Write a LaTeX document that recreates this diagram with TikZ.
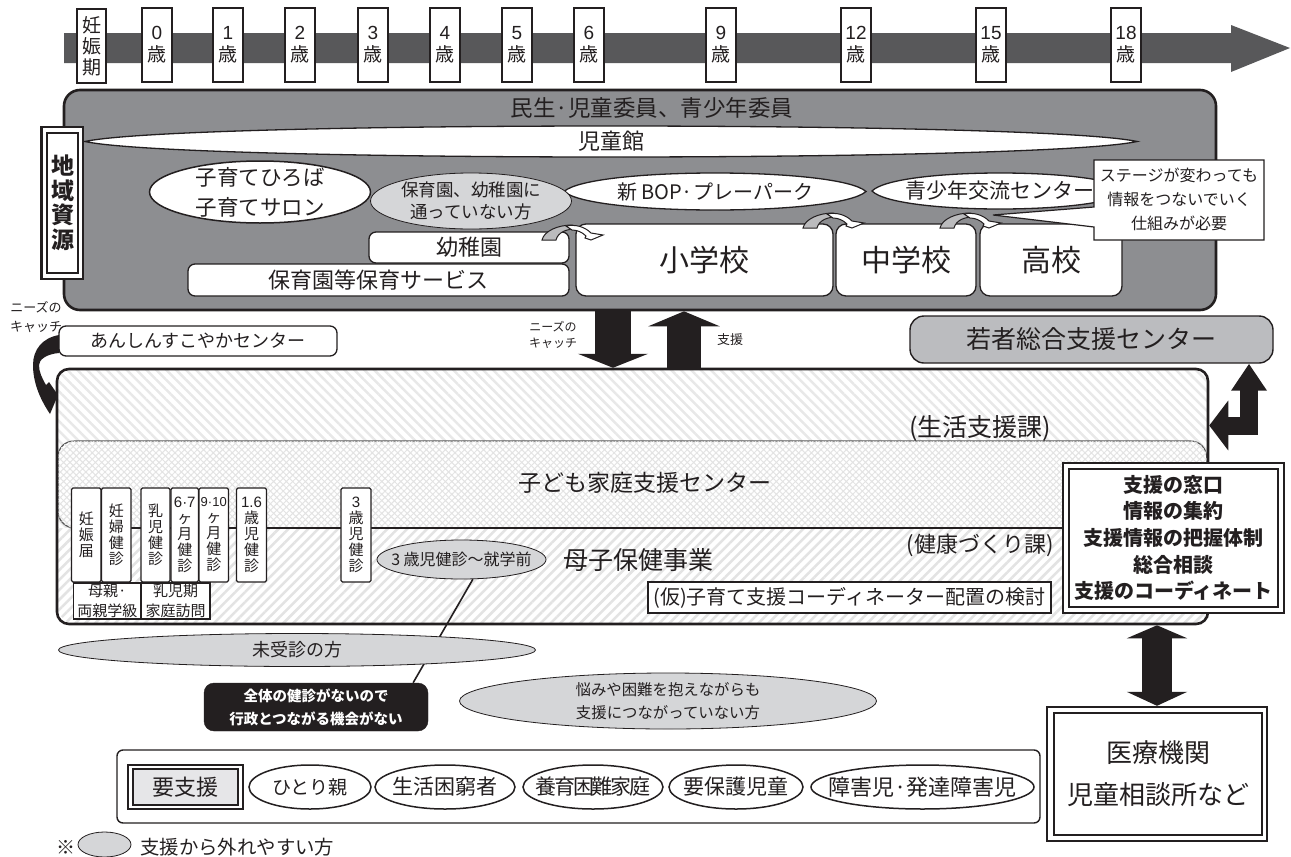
\documentclass[tikz,border=0pt]{standalone}
\usepackage{fontspec}
\setmainfont{Noto Sans CJK JP}
\newfontfamily\latf{Liberation Sans}
\usetikzlibrary{shapes.geometric,arrows.meta,patterns.meta,calc}
\definecolor{panelgray}{HTML}{8D8E91}
\definecolor{bargray}{HTML}{58585A}
\definecolor{softgray}{HTML}{D5D6D8}
\definecolor{midgray}{HTML}{BBBCBF}
\definecolor{ink}{HTML}{231F20}
\newcommand\fs[2]{\fontsize{#1}{#2}\selectfont}
\newcommand\bx[6][]{%
  \pgfmathsetmacro\cxx{(#3+#5)/2}\pgfmathsetmacro\cyy{(#4+#6)/2}%
  \pgfmathsetmacro\ww{#5-#3}\pgfmathsetmacro\hh{#6-#4}%
  \node[bxbase,#1,minimum width=\ww pt,minimum height=\hh pt] (#2) at (\cxx,\cyy)}
% ellipse outline and its text as two nodes, so that the text does not inflate the shape
\newcommand\elt[8]{%
  \node[#1,minimum width=#5pt,minimum height=#6pt] (#2) at (#3,#4) {};
  \node[plain,font=#7] (#2-t) at (#2) {#8};}
\newcommand\lens[6]{%
  \pgfmathsetmacro\ym{(#4+#5)/2}\pgfmathsetmacro\dd{(#5-#4)/2/0.75}%
  \pgfmathsetmacro\xa{#2+0.09*(#3-#2)}\pgfmathsetmacro\xb{#3-0.09*(#3-#2)}%
  \pgfmathsetmacro\cta{\ym-\dd}\pgfmathsetmacro\ctb{\ym+\dd}%
  \pgfmathsetmacro\xm{(#2+#3)/2}%
  \draw[line width=1.3pt,draw=ink,fill=white] (#2,\ym) .. controls (\xa,\cta) and (\xb,\cta) .. (#3,\ym) .. controls (\xb,\ctb) and (\xa,\ctb) .. cycle;
  \node[text=ink,#6] (#1) at (\xm,\ym)}
\newcommand\tran[2]{%
  \fill[panelgray!60,draw=ink,line width=1pt] (#1-31,#2+15) .. controls (#1-29,#2+6) and (#1-15,#2) .. (#1-1,#2) -- (#1+2,#2+4) .. controls (#1-6,#2+4) and (#1-15,#2+7) .. (#1-17,#2+15) -- cycle;
  \fill[white,draw=ink,line width=1pt] (#1-7,#2+1) .. controls (#1+3,#2-1) and (#1+12,#2+2) .. (#1+18,#2+8) -- (#1+30,#2+10) -- (#1+18,#2+15) -- (#1+12,#2+13) -- (#1+13,#2+11) .. controls (#1+9,#2+7) and (#1+4,#2+5) .. (#1-1,#2+5) -- cycle;}
\tikzset{
  bxbase/.style={rectangle,inner sep=0pt,align=center,text=ink},
  whitebox/.style={draw=ink,fill=white,line width=1.3pt,rounded corners=7pt},
  agebox/.style={draw=ink,fill=white,line width=1.4pt},
  chk/.style={draw=ink,fill=white,line width=1.2pt,rounded corners=1.5pt,font=\fs{15}{16}},
  softell/.style={ellipse,draw=ink,fill=softgray,line width=0.8pt,inner sep=0pt},
  whell/.style={ellipse,draw=ink,fill=white,line width=1.5pt,inner sep=0pt},
  plain/.style={inner sep=0pt,align=center,text=ink},
  bigarrow/.style={draw=ink,line width=#1},
}
\begin{document}
\begin{tikzpicture}[x=1pt,y=-1pt]
\useasboundingbox (0,0) rectangle (1291,857);
% timeline
\fill[bargray] (64,33) -- (1231,33) -- (1231,25) -- (1290,48) -- (1231,72) -- (1231,63) -- (64,63) -- cycle;
\bx[agebox,font=\fs{19}{21}]{preg}{77}{9}{106}{83}{妊\\娠\\期};
\foreach \nm/\xc/\lab in {a0/157/0,a1/228/1,a2/300/2,a3/373/3,a4/445/4,a5/517/5,a6/589/6,a9/721/9,a12/856/12,a15/991/15,a18/1126/18}{
  \pgfmathsetmacro\xl{\xc-15}\pgfmathsetmacro\xr{\xc+15}
  \bx[agebox,font=\fs{19}{22}]{\nm}{\xl}{8}{\xr}{82}{{\latf\lab}\\歳};
}
% upper panel
\bx[draw=ink,fill=panelgray,line width=2.6pt,rounded corners=16pt]{res}{64}{90}{1216}{310}{};
\node[plain,font=\fs{22.5}{24}] (minsei) at (652,108) {民生·児童委員、青少年委員};
\lens{kodo}{85}{1137}{126}{157}{font=\fs{22}{24}}{児童館};
\bx[draw=ink,fill=white,line width=2.4pt]{chiikiO}{41.5}{127}{83}{279}{};
\bx[draw=ink,fill=white,line width=1.6pt,font=\bfseries\fs{23}{24.5}]{chiiki}{47}{133}{78}{273}{地\\域\\資\\源};
\elt{whell}{hiroba}{260}{192}{221}{62}{\fs{21.5}{30}}{子育てひろば\\子育てサロン}
\lens{bop}{564}{866}{173}{210}{font=\fs{20}{24}}{新 BOP·プレーパーク};
\elt{softell}{nonsch}{471}{201}{201}{56}{\fs{17.5}{22}}{保育園、幼稚園に\\通っていない方\hspace{1em}}
\lens{seisho}{872}{1128}{173}{209}{font=\fs{21}{24}}{青少年交流センター};
\bx[whitebox,font=\fs{22}{24}]{yochi}{369}{232}{569}{263}{幼稚園};
\bx[whitebox,font=\fs{22}{24}]{hoiku}{188}{264}{569}{296}{保育園等保育サービス};
\bx[whitebox,rounded corners=10pt,font=\fs{30}{32}]{sho}{576}{224}{833}{296}{小学校};
\bx[whitebox,rounded corners=10pt,font=\fs{30}{32}]{chu}{836}{224}{976}{296}{中学校};
\bx[whitebox,rounded corners=10pt,font=\fs{30}{32}]{ko}{980}{224}{1122}{296}{高校};
% callout
\draw[draw=ink,fill=white,line width=1.2pt] (1094,160) -- (1264,160) -- (1264,240) -- (1094,240) -- (1094,227) -- (993,215) -- (1094,207) -- cycle;
\node[plain,font=\fs{16}{24}] (stage) at (1179,199) {ステージが変わっても\\情報をつないでいく\\仕組みが必要};
\tran{573}{225}
\tran{834}{213}
\tran{971}{213}
% lower panel
\bx[whitebox,font=\fs{18}{20}]{anshin}{59}{326}{337}{356}{あんしんすこやかセンター};
\bx[draw=ink,fill=midgray,line width=1.4pt,rounded corners=14pt,font=\fs{25}{28}]{waka}{910}{316}{1273}{363}{若者総合支援センター};
\bx[fill=white,rounded corners=12pt,pattern={Lines[angle=-45,distance=7pt,line width=2.5pt]},pattern color=black!9]{sec}{57}{369}{1208}{624}{};
\path[fill=white] (57,528) -- (1208,528) -- (1208,612) -- (1196,624) -- (69,624) -- (57,612) -- cycle;
\path[pattern={Lines[angle=45,distance=7pt,line width=2.5pt]},pattern color=black!11] (57,528) -- (1208,528) -- (1208,612) -- (1196,624) -- (69,624) -- (57,612) -- cycle;
\draw[draw=black!65,line width=1.2pt,fill=white] (72,528) .. controls (64,526) and (58,520) .. (58,510) -- (58,458) .. controls (58,448) and (64,441) .. (75,441) -- (1190,441) .. controls (1200,441) and (1207,448) .. (1207,460) -- (1207,528) -- cycle;
\path[pattern={Hatch[angle=45,distance=4.5pt,line width=1pt]},pattern color=black!11] (72,528) .. controls (64,526) and (58,520) .. (58,510) -- (58,458) .. controls (58,448) and (64,441) .. (75,441) -- (1190,441) .. controls (1200,441) and (1207,448) .. (1207,460) -- (1207,528) -- cycle;
\bx[draw=ink,line width=2.6pt,rounded corners=12pt]{secO}{57}{369}{1208}{624}{};
\draw[draw=ink,line width=1.6pt] (72,528) -- (1064,528);
\node[plain,font=\fs{23}{26}] (kodomo) at (645,483) {子ども家庭支援センター};
\node[plain,font=\fs{25}{26}] (seikatsu) at (980,428) {(生活支援課)};
\node[plain,font=\fs{22}{26}] (kenko) at (980,545) {(健康づくり課)};
\node[plain,font=\fs{25}{28}] (boshi) at (638,560) {母子保健事業};
\bx[draw=ink,fill=white,line width=1.3pt,font=\fs{20}{22}]{kari}{648}{582}{1051}{613}{(仮)子育て支援コーディネーター配置の検討};
% check-up boxes
\bx[chk]{c1}{71.5}{488}{101}{582}{妊\\娠\\届};
\bx[chk]{c2}{101.5}{488}{131}{582}{妊\\婦\\健\\診};
\bx[chk]{c3}{141}{488}{170}{582}{乳\\児\\健\\診};
\bx[chk]{c4}{171}{488}{198.5}{582}{{\latf 6·7}\\ヶ\\月\\健\\診};
\bx[chk]{c5}{199}{488}{228.5}{582}{{\latf\fs{13}{16}9·10}\\ヶ\\月\\健\\診};
\bx[chk]{c6}{236.5}{488}{266.5}{582}{{\latf 1.6}\\歳\\児\\健\\診};
\bx[chk]{c7}{341}{488}{371}{582}{{\latf 3}\\歳\\児\\健\\診};
\bx[draw=ink,fill=white,line width=1.2pt,font=\fs{15}{20}]{c8}{73.5}{583}{141}{619}{母親·\\両親学級};
\bx[draw=ink,fill=white,line width=1.2pt,font=\fs{15}{20}]{c9}{141}{583}{210}{619}{乳児期\\家庭訪問};
\elt{softell}{kid3}{461.5}{559.5}{169}{39}{\fs{16}{18}}{3 歳児健診〜就学前}
% right box
\bx[draw=ink,fill=white,line width=2.4pt]{madoO}{1063}{463}{1284}{613}{};
\bx[draw=ink,fill=white,line width=2pt,font=\bfseries\fs{20}{26.7}]{mado}{1069}{469}{1278}{607}{支援の窓口\\情報の集約\\支援情報の把握体制\\総合相談\\支援のコーディネート};
% block arrows
\coordinate (dnx) at (613,0);
\coordinate (upx) at (684,0);
\coordinate (medx) at (1157,0);
\coordinate (bentx) at (1249,0);
\coordinate (benty) at (0,425.5);
\draw[bigarrow=36pt,-{Triangle[width=70pt,length=14pt]}] (res.south -| dnx) -- (sec.north -| dnx);
\draw[bigarrow=34pt,-{Triangle[width=71pt,length=15pt]}] (sec.north -| upx) -- (res.south -| upx);
\draw[bigarrow=18pt,{Triangle[width=49pt,length=19pt]}-{Triangle[width=34pt,length=27pt]}] (sec.east |- benty) -| (waka.south -| bentx);
\fill[ink] (59,335) .. controls (42,338) and (33,350) .. (33,365) .. controls (33,385) and (42,402) .. (50,414) -- (58,395) -- (49,382) -- (46,385) .. controls (42,378) and (39,372) .. (39,365) .. controls (39,360) and (46,354) .. (59,353) -- cycle;
\node[plain,font=\fs{12}{16}] (need1) at (553,335) {ニーズの\\キャッチ};
\node[plain,font=\fs{13}{15}] (shien) at (730,340) {支援};
\node[plain,font=\fs{13}{19}] (need2) at (36,317) {ニーズの\\キャッチ};
% medical
\bx[draw=ink,fill=white,line width=2.4pt]{medO}{1047}{707}{1267}{841}{};
\bx[draw=ink,fill=white,line width=2pt,font=\fs{26}{42}]{med}{1054}{713}{1262}{835}{医療機関\\児童相談所など};
\draw[bigarrow=30pt,{Triangle[width=60pt,length=13pt]}-{Triangle[width=60pt,length=14pt]}] (secO.south -| medx) -- (medO.north -| medx);
% lower notes
\bx[draw=ink,fill=ink,rounded corners=10pt,text=white,font=\bfseries\fs{14.5}{23}]{blk}{204}{683}{428}{731}{全体の健診がないので\\行政とつながる機会がない};
\draw[draw=ink,line width=1.6pt] (kid3.-60) -- (blk.14);
\elt{softell}{mijushin}{297}{650}{477}{33}{\fs{18}{20}}{未受診の方}
\elt{softell}{nayami}{668}{701}{417}{56}{\fs{15.4}{23}}{悩みや困難を抱えながらも\\支援につながっていない方}
% legend
\bx[draw=ink,fill=white,line width=1.4pt,rounded corners=6pt]{leg}{117}{750}{1040}{823}{};
\bx[draw=ink,fill=white,line width=2.2pt]{yoO}{128}{765}{243}{809}{};
\bx[draw=ink,fill=softgray!60,line width=1.8pt,font=\fs{22}{24}]{yo}{133}{769}{238}{805}{要支援};
\elt{whell}{e1}{310}{787}{122}{44}{\fs{19}{22}}{ひとり親}
\elt{whell}{e2}{445}{787}{140}{44}{\fs{21}{24}}{生活困窮者}
\elt{whell}{e3}{593}{787}{140}{44}{\fs{21}{24}}{養\kern-2.2pt 育\kern-2.2pt 困\kern-2.2pt 難\kern-2.2pt 家\kern-2.2pt 庭}
\elt{whell}{e4}{736}{787}{134}{44}{\fs{21}{24}}{要保護児童}
\elt{whell}{e5}{922.5}{787}{223}{44}{\fs{22}{24}}{障害児·発達障害児}
% footer
\node[plain,font=\fs{19}{22}] (kome) at (65.5,847) {※};
\node[softell,minimum width=53pt,minimum height=25pt] (keyell) at (104.5,844.5) {};
\node[plain,font=\fs{19.4}{22},anchor=west] (keytxt) at (140,847) {支援から外れやすい方};
\end{tikzpicture}
\end{document}
